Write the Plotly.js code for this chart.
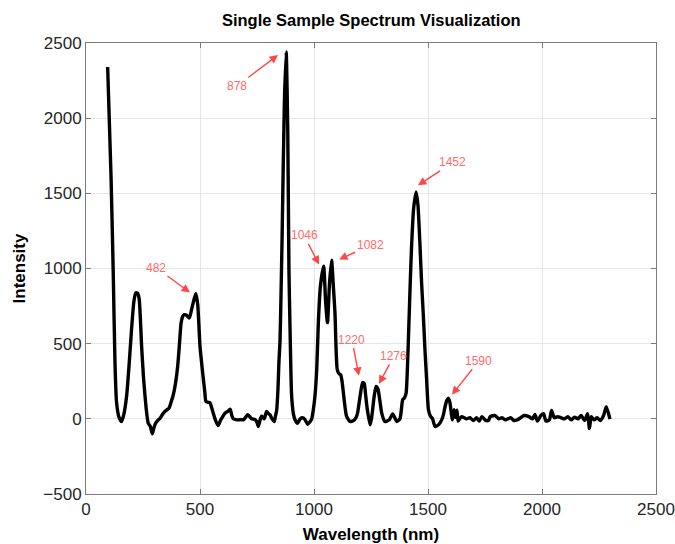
<!DOCTYPE html>
<html>
<head>
<meta charset="utf-8">
<script src="https://cdn.plot.ly/plotly-3.0.1.min.js"></script>
<style>html,body{margin:0;padding:0;background:#fff;}#chart{width:675px;height:544px;}</style>
</head>
<body>
<div id="chart"></div>
<script>
// Wavelength (nm)
const wavelength = [
  95,110,120,127,134,145,156,166,178,190,200,210,218,226,233,244,252,259,266,273,282,291,298,305,315,325,336,346,355,364,373,383,393,402,410,417,424,431,440,453,463,475,482,490,500,508,515,521,526,535,544,551,558,568,580,590,600,610,622,632,640,646,657,668,680,690,700,709,718,727,741,749,756,763,770,776,782,787,792,800,807,816,826,831,836,842,846,851,855,860,870,878,885,890,895,902,910,917,928,940,949,960,972,982,990,997,1004,1012,1019,1028,1042,1051,1059,1068,1077,1085,1092,1102,1110,1117,1123,1129,1136,1143,1158,1168,1177,1185,1191,1202,1213,1220,1227,1234,1246,1252,1257,1264,1272,1280,1289,1297,1311,1320,1330,1345,1355,1363,1377,1389,1397,1404,1410,1416,1422,1428,1437,1448,1456,1465,1472,1479,1487,1494,1502,1510,1520,1531,1546,1560,1568,1575,1582,1589,1596,1602,1607,1614,1620,1627,1632,1647,1669,1684,1699,1713,1725,1736,1750,1765,1773,1795,1810,1825,1840,1862,1877,1891,1906,1921,1943,1958,1969,1980,1995,2007,2017,2032,2042,2054,2069,2084,2099,2113,2128,2143,2158,2172,2187,2200,2208,2216,2228,2242,2256,2270,2282,2298
];
// Intensity
const intensity = [
  2340,1600,930,380,110,10,-18,30,150,380,600,780,838,835,800,480,280,150,40,-29,-50,-100,-60,-29,-10,4,30,49,60,71,110,160,240,349,500,638,680,693,690,671,727,800,833,760,482,360,260,180,116,110,107,75,38,-10,-45,-10,15,38,50,64,20,0,-5,-7,-5,-7,10,27,15,0,-4,-20,-51,-10,18,10,0,25,49,35,27,0,-18,20,53,200,371,520,800,1200,2100,2440,1900,1000,593,149,30,-7,-29,0,7,-4,-36,-20,0,60,149,330,638,880,1015,780,640,900,1055,880,704,327,300,293,250,171,80,16,-18,-15,-7,10,38,149,242,235,150,60,-40,0,60,150,216,200,120,38,-18,-15,-7,33,5,-18,0,127,140,171,350,620,900,1149,1400,1510,1420,1149,900,704,450,260,60,20,0,-51,-40,-7,30,82,120,138,110,40,-7,60,10,58,-15,15,0,7,-11,7,-15,15,-7,-11,15,22,0,7,-7,7,-11,-7,7,22,15,0,29,-15,22,34,-15,-7,56,7,15,7,0,15,-7,11,0,22,-11,34,-65,15,-7,7,-11,22,80,-2
];
// Peak annotations
const peakLabels = ['482','878','1046','1082','1220','1276','1452','1590'];
const arrowTipX  = [456, 842, 1022, 1110, 1197, 1285, 1456, 1605];
const arrowTipY  = [840, 2420, 1027, 1060, 287, 233, 1553, 160];
const labelDx    = [-34, -41, -15, 31, -7, 15, 35, 27];
const labelDy    = [-25, 31, -29, -14, -36, -28, -23, -34];

const annotations = peakLabels.map((t, i) => ({
  x: arrowTipX[i], y: arrowTipY[i], xref: 'x', yref: 'y',
  text: t, showarrow: true, ax: labelDx[i], ay: labelDy[i],
  arrowhead: 2, arrowsize: 1.2, arrowwidth: 1.4, arrowcolor: 'rgba(255,40,40,0.85)',
  font: {family: 'Arial, Liberation Sans, sans-serif', size: 12, color: '#ff6b6b'}
}));

const trace = {
  x: wavelength, y: intensity, type: 'scatter', mode: 'lines',
  line: {color: '#000000', width: 3.4, shape: 'spline', smoothing: 0.6},
  hoverinfo: 'skip'
};

const axisCommon = {
  showline: true, mirror: 'ticks', linecolor: '#7a7a7a', linewidth: 1,
  ticks: 'inside', ticklen: 5, tickcolor: '#7a7a7a',
  showgrid: true, gridcolor: '#e6e6e6', gridwidth: 1, zeroline: false,
  tickfont: {family: 'Arial, Liberation Sans, sans-serif', size: 17, color: '#262626'}
};

const layout = {
  width: 675, height: 544,
  margin: {l: 86, r: 19, t: 43, b: 50},
  paper_bgcolor: '#ffffff', plot_bgcolor: '#ffffff',
  showlegend: false,
  title: {
    text: '<b>Single Sample Spectrum Visualization</b>',
    font: {family: 'Arial, Liberation Sans, sans-serif', size: 16.5, color: '#000000'},
    x: 0.55, xref: 'container', xanchor: 'center',
    y: 0.963, yref: 'container', yanchor: 'middle'
  },
  xaxis: Object.assign({}, axisCommon, {
    range: [0, 2500], tickvals: [0, 500, 1000, 1500, 2000, 2500],
    title: {text: '<b>Wavelength (nm)</b>', standoff: 11,
      font: {family: 'Arial, Liberation Sans, sans-serif', size: 17, color: '#000000'}}
  }),
  yaxis: Object.assign({}, axisCommon, {
    range: [-500, 2500], tickvals: [-500, 0, 500, 1000, 1500, 2000, 2500],
    title: {text: '<b>Intensity</b>', standoff: 13,
      font: {family: 'Arial, Liberation Sans, sans-serif', size: 17, color: '#000000'}}
  }),
  annotations: annotations
};

Plotly.newPlot('chart', [trace], layout, {displayModeBar: false, staticPlot: true});
</script>
</body>
</html>
